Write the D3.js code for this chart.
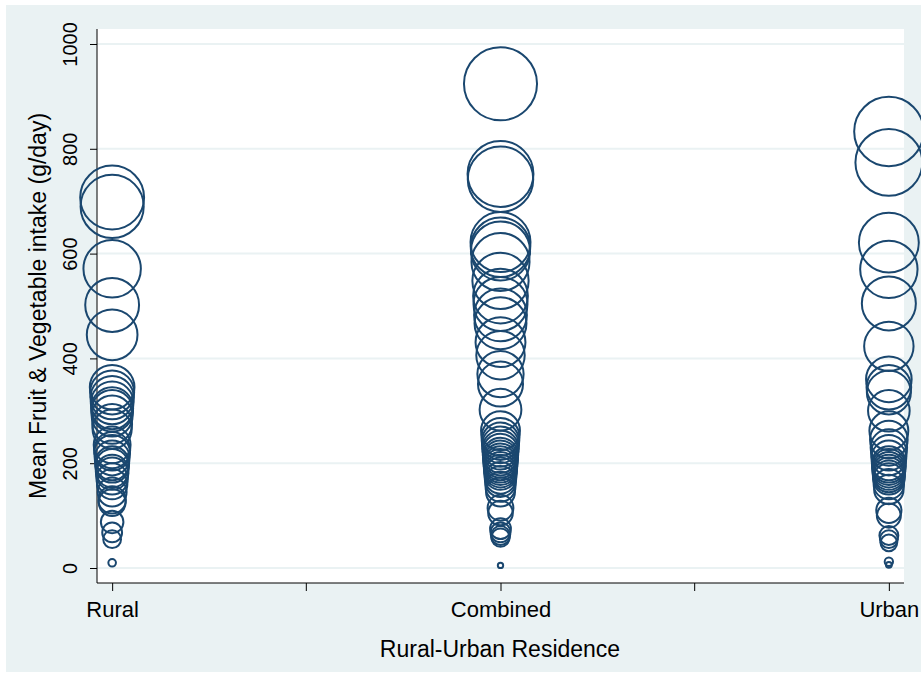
<html>
<head>
    <title>Fruit and vegetable intake by residence</title>
    <script src="https://d3js.org/d3.v7.min.js"></script>
    <style>
        body { margin: 0; background: #ffffff; font-family: 'Liberation Sans', Arial, sans-serif; }
        svg { display: block; }
    </style>
</head>
<body>
    <svg id="bubbles" width="921" height="675"></svg>

    <script>

    // categories on the x axis
    var categories = ["Rural", "Combined", "Urban"];

    // mean intake (g/day) of each study
    var rural = [707, 690, 571, 502, 445, 345, 335, 325, 315, 305, 300, 290, 275, 265,
                 235, 225, 220, 210, 200, 195, 185, 180, 170, 160, 145, 130, 125, 88, 68, 55, 10];
    var combined = [924, 752, 742, 622, 612, 605, 584, 548, 519, 504, 483, 467, 431, 406,
                    370, 351, 302, 262, 250, 242, 235, 228, 222, 215, 210, 205, 200, 195, 190,
                    185, 180, 172, 165, 155, 145, 115, 105, 75, 68, 62, 58, 5];
    var urban = [833, 774, 621, 570, 505, 423, 360, 345, 335, 300, 262, 245, 230, 220, 210,
                 200, 195, 190, 185, 180, 175, 170, 160, 150, 110, 100, 62, 55, 48, 12, 6];

    var yTicks = [0, 200, 400, 600, 800, 1000];

    var svg = d3.select("#bubbles");

    var pL = 97, pR = 904, pT = 29, pB = 583;
    var navy = "#1a476f";
    var bg = "#eaf2f3";

    var x = d3.scaleLinear().domain([0.961, 3.039]).range([pL, pR]);
    var y = d3.scaleLinear().domain([-28.6, 1028.6]).range([pB, pT]);
    var r = d3.scaleSqrt().domain([0, 1000]).range([0, 38]);

    // graph region and plot region
    svg.append("rect").attr("x", 6).attr("y", 5).attr("width", 915).attr("height", 667)
        .attr("fill", bg);
    svg.append("rect").attr("x", pL).attr("y", pT).attr("width", pR - pL)
        .attr("height", pB - pT).attr("fill", "#ffffff");

    // grid lines
    svg.selectAll("line.grid").data(yTicks).enter()
        .append("line")
        .attr("class", "grid")
        .attr("x1", pL).attr("x2", pR)
        .attr("y1", function (d) { return y(d); })
        .attr("y2", function (d) { return y(d); })
        .attr("stroke", bg)
        .attr("stroke-width", 2);

    // y axis
    var yAxis = d3.axisLeft(y).tickValues(yTicks).tickSize(7).tickPadding(0).tickFormat(d3.format("d"));
    var gy = svg.append("g").attr("transform", "translate(" + pL + ",0)").call(yAxis);
    gy.select(".domain").attr("d", "M0," + pT + "V" + pB).attr("stroke", "#000");
    gy.selectAll(".tick line").attr("stroke", "#000");
    gy.selectAll(".tick text")
        .attr("transform", "translate(-27,0) rotate(-90)")
        .attr("x", 0).attr("y", 0).attr("dy", "0.35em")
        .attr("text-anchor", "middle")
        .attr("fill", "#000")
        .style("font-family", "'Liberation Sans', Arial, sans-serif")
        .style("font-size", "20px");

    // x axis with major ticks on the categories and minor ones between them
    var xAxis = d3.axisBottom(x).tickValues([1, 2, 3]).tickSize(8).tickPadding(10)
        .tickFormat(function (d) { return categories[d - 1]; });
    var gx = svg.append("g").attr("transform", "translate(0," + pB + ")").call(xAxis);
    gx.select(".domain").attr("d", "M" + pL + ",0H" + pR).attr("stroke", "#000");
    gx.selectAll(".tick line").attr("stroke", "#000");
    gx.selectAll(".tick text")
        .attr("fill", "#000")
        .style("font-family", "'Liberation Sans', Arial, sans-serif")
        .style("font-size", "22px");
    gx.selectAll("line.minor").data([1.5, 2.5]).enter()
        .append("line")
        .attr("class", "minor")
        .attr("x1", function (d) { return x(d); })
        .attr("x2", function (d) { return x(d); })
        .attr("y1", 0).attr("y2", 8)
        .attr("stroke", "#000");

    // bubbles
    var groups = [rural, combined, urban];
    groups.forEach(function (values, i) {
        svg.append("g").selectAll("circle").data(values).enter()
            .append("circle")
            .attr("cx", x(i + 1))
            .attr("cy", function (d) { return y(d); })
            .attr("r", function (d) { return r(d); })
            .attr("fill", "none")
            .attr("stroke", navy)
            .attr("stroke-width", 2);
    });

    // axis titles
    svg.append("text")
        .attr("x", 500).attr("y", 657)
        .attr("text-anchor", "middle")
        .style("font-size", "23px")
        .text("Rural-Urban Residence");

    svg.append("text")
        .attr("transform", "translate(46," + ((pT + pB) / 2) + ") rotate(-90)")
        .attr("text-anchor", "middle")
        .style("font-size", "23px")
        .text("Mean Fruit & Vegetable intake (g/day)");
    </script>

</body>
</html>
